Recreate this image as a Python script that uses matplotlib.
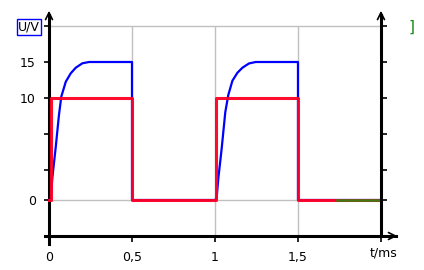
import matplotlib
matplotlib.use('Agg')
import matplotlib.pyplot as plt
import numpy as np

# axis mapping of the original drawing (volts -> screen units), piecewise linear
V_KNOTS = [-100, 0, 10, 100]
P_KNOTS = [-1020, 0, 102, 750]

# blue: capacitor voltage (t in ms, U in V)
blue_t = [0.0, 0.010, 0.020, 0.040, 0.060, 0.074, 0.101, 0.131, 0.161, 0.201, 0.241, 0.500,
          0.500, 1.000, 1.010, 1.020, 1.040, 1.062, 1.080, 1.105, 1.135, 1.165, 1.205, 1.245, 1.500,
          1.500, 2.000]
blue_u = [0.0, 0.17, 2.16, 5.1, 8.33, 10.18, 12.26, 13.43, 14.2, 14.82, 15.0, 15.0,
          0.0, 0.0, 0.2, 2.1, 5.0, 8.6, 10.4, 12.4, 13.5, 14.2, 14.8, 15.0, 15.0,
          0.0, 0.0]

# red: square input voltage
red_t = [0.0, 0.01, 0.01, 0.5, 0.5, 1.006, 1.006, 1.5, 1.5, 2.0]
red_u = [0.0, 0.0, 10.0, 10.0, 0.0, 0.0, 10.0, 10.0, 0.0, 0.0]

# green: short trace at the end
green_t = [1.735, 2.0]
green_u = [0.0, 0.0]

x_ticks = [0, 0.5, 1, 1.5]
x_labels = ['0', '0,5', '1', '1,5']
y_tick_pos = [174, 138, 102, 66, 30, 0]   # screen units, converted below
y_labels = ['', '15', '10', '', '', '0']
grid_t = [0.5, 1.0, 1.5]


def fwd(v):
    return np.interp(v, V_KNOTS, P_KNOTS)


def inv(p):
    return np.interp(p, P_KNOTS, V_KNOTS)


y_low, y_high = inv(-44), inv(192)
axis_u = inv(-36)
yt = inv(np.array(y_tick_pos, dtype=float))

fig = plt.figure(figsize=(4.24, 2.70), dpi=100)
ax = fig.add_axes([44.85 / 424, 26 / 270, 355.2 / 424, 236 / 270])
ax.set_yscale('function', functions=(fwd, inv))
ax.set_xlim(-0.025, 2.115)
ax.set_ylim(y_low, y_high)

grid_c = '#c0c0c0'
ax.hlines([20, 0], 0, 2.0, color=grid_c, lw=1, zorder=1)
ax.vlines(grid_t, [0, axis_u, axis_u], 20, color=grid_c, lw=1, zorder=1)

ax.plot(blue_t, blue_u, color='#0000ff', lw=1.6, zorder=3)
ax.plot(red_t, red_u, color='#ff0024', lw=2.2, zorder=4, alpha=0.95)
ax.plot(green_t, green_u, color='#3d7a12', lw=1.8, zorder=5)

for s in ['top', 'right']:
    ax.spines[s].set_visible(False)
ax.spines['left'].set_position(('data', 0))
ax.spines['bottom'].set_position(('data', axis_u))
ax.spines['left'].set_linewidth(2.2)
ax.spines['bottom'].set_linewidth(2.2)
ax.spines['left'].set_bounds(y_low, inv(185))
ax.spines['bottom'].set_bounds(-0.025, 2.09)

ax.set_xticks(x_ticks + [2.0])
ax.set_xticklabels(x_labels + [''])
ax.set_yticks(yt)
ax.set_yticklabels(y_labels)
ax.minorticks_off()
ax.tick_params(axis='x', direction='out', length=4.5, width=1.2, pad=6, labelsize=9)
ax.tick_params(axis='y', direction='out', length=3.5, width=1.2, pad=6, labelsize=9)

# right vertical axis
ax2 = ax.twinx()
ax2.set_yscale('function', functions=(fwd, inv))
ax2.set_ylim(y_low, y_high)
for s in ['top', 'left', 'bottom']:
    ax2.spines[s].set_visible(False)
ax2.spines['right'].set_position(('data', 2.0))
ax2.spines['right'].set_linewidth(2.2)
ax2.spines['right'].set_bounds(axis_u, inv(185))
ax2.set_yticks(yt)
ax2.set_yticklabels([])
ax2.minorticks_off()
ax2.tick_params(axis='y', direction='out', length=4, width=1.2)

# arrow heads
arrow = dict(arrowstyle='->,head_length=0.5,head_width=0.25', lw=1.2, color='black')
ax.annotate('', xy=(0, inv(192)), xytext=(0, inv(178)), arrowprops=arrow, annotation_clip=False)
ax.annotate('', xy=(2.0, inv(192)), xytext=(2.0, inv(178)), arrowprops=arrow, annotation_clip=False)
ax.annotate('', xy=(2.115, axis_u), xytext=(2.05, axis_u), arrowprops=arrow, annotation_clip=False)

fig.text(29 / 424, 1 - 27 / 270, 'U/V', ha='center', va='center', fontsize=9,
         bbox=dict(boxstyle='square,pad=0.12', fc='white', ec='#0000ff', lw=1))
fig.text(412 / 424, 1 - 27 / 270, ']', ha='center', va='center', fontsize=11, color='#1a8a1a')
fig.text(384 / 424, 1 - 253 / 270, 't/ms', ha='center', va='center', fontsize=9)

fig.savefig('out.png', dpi=100)
